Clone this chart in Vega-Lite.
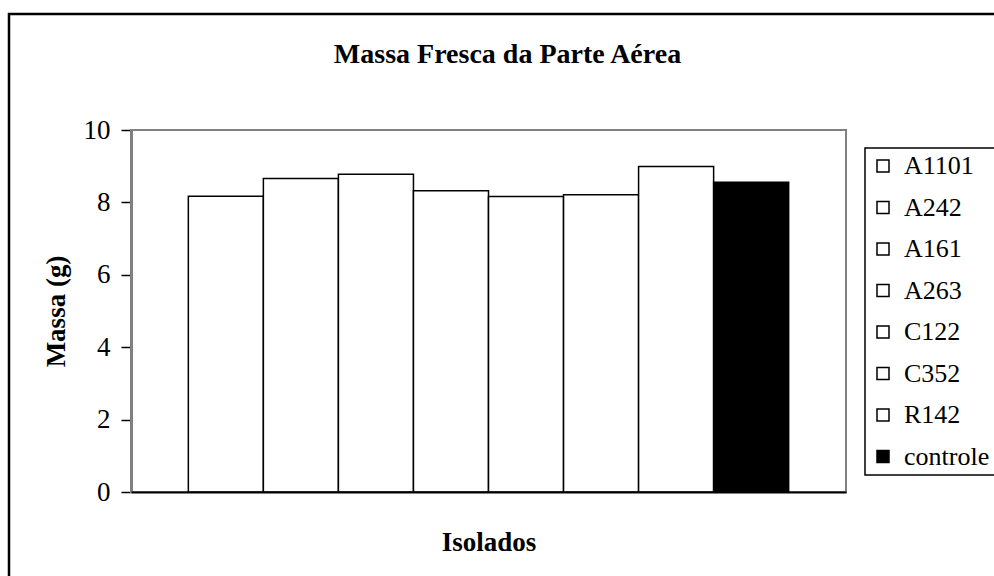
{
  "$schema": "https://vega.github.io/schema/vega-lite/v6.json",
  "width": 997,
  "height": 580,
  "autosize": "none",
  "padding": {"left": 9, "top": 14, "right": 0, "bottom": 0},
  "background": "white",
  "config": {
    "view": {"stroke": "black", "strokeWidth": 2.5},
    "font": "Liberation Serif",
    "legend": {"strokeWidth": 1.5},
    "axisY": {
      "orient": "left",
      "offset": -122,
      "zindex": 1,
      "grid": false,
      "domainColor": "black",
      "domainWidth": 2,
      "tickColor": "black",
      "tickWidth": 1.5,
      "tickSize": 10,
      "labelFont": "Liberation Serif",
      "labelFontSize": 27,
      "labelColor": "black",
      "labelPadding": 11,
      "titleFont": "Liberation Serif",
      "titleFontSize": 27,
      "titleFontWeight": "bold",
      "titleColor": "black",
      "titleAngle": -90,
      "titleBaseline": "alphabetic",
      "titleAlign": "center",
      "titleX": -67,
      "titleY": 297
    }
  },
  "title": {
    "text": "Massa Fresca da Parte Aérea",
    "font": "Liberation Serif",
    "fontSize": 28,
    "fontWeight": "bold",
    "color": "black",
    "anchor": "middle",
    "frame": "group",
    "baseline": "alphabetic",
    "offset": 0,
    "dy": 77
  },
  "data": {
    "values": [
      {"isolado": "A1101", "massa": 8.17},
      {"isolado": "A242", "massa": 8.66},
      {"isolado": "A161", "massa": 8.78},
      {"isolado": "A263", "massa": 8.32},
      {"isolado": "C122", "massa": 8.16},
      {"isolado": "C352", "massa": 8.21},
      {"isolado": "R142", "massa": 8.99},
      {"isolado": "controle", "massa": 8.56}
    ]
  },
  "layer": [
    {
      "data": {"values": [{}]},
      "mark": {"type": "rect", "fill": null, "stroke": "#808080", "strokeWidth": 2},
      "encoding": {
        "x": {"datum": 0, "type": "quantitative", "scale": {"domain": [0, 1], "range": [122, 837], "nice": false, "zero": false}, "axis": null},
        "x2": {"datum": 1},
        "y": {
          "datum": 0,
          "type": "quantitative",
          "scale": {"domain": [0, 10], "range": [478, 116], "nice": false, "zero": true},
          "axis": {"values": [0, 2, 4, 6, 8, 10], "title": "Massa (g)"}
        },
        "y2": {"datum": 10}
      }
    },
    {
      "mark": {"type": "bar", "stroke": "black", "strokeWidth": 1.5},
      "encoding": {
        "x": {
          "field": "isolado",
          "type": "nominal",
          "sort": null,
          "scale": {"type": "band", "range": [122, 837], "paddingInner": 0, "paddingOuter": 0.764},
          "axis": {
            "orient": "bottom",
            "offset": -102,
            "zindex": 1,
            "domainColor": "black",
            "domainWidth": 2,
            "ticks": false,
            "labels": false,
            "title": "Isolados",
            "titleFont": "Liberation Serif",
            "titleFontSize": 27,
            "titleFontWeight": "bold",
            "titleColor": "black",
            "titleBaseline": "alphabetic",
            "titleY": 58
          }
        },
        "y": {
          "field": "massa",
          "type": "quantitative",
          "scale": {"domain": [0, 10], "range": [478, 116], "nice": false, "zero": true},
          "axis": {"values": [0, 2, 4, 6, 8, 10], "title": "Massa (g)"}
        },
        "fill": {
          "field": "isolado",
          "type": "nominal",
          "sort": null,
          "scale": {
            "domain": ["A1101", "A242", "A161", "A263", "C122", "C352", "R142", "controle"],
            "range": ["white", "white", "white", "white", "white", "white", "white", "black"]
          },
          "legend": {
            "orient": "none",
            "legendX": 856,
            "legendY": 134,
            "title": null,
            "symbolType": "square",
            "symbolSize": 144,
            "symbolStrokeColor": "black",
            "symbolStrokeWidth": 1.5,
            "labelFont": "Liberation Serif",
            "labelFontSize": 26,
            "labelColor": "black",
            "labelOffset": 8,
            "labelLimit": 300,
            "rowPadding": 15.5,
            "padding": 5,
            "strokeColor": "black",
            "fillColor": "white"
          }
        }
      }
    }
  ],
  "resolve": {"scale": {"x": "independent"}}
}
